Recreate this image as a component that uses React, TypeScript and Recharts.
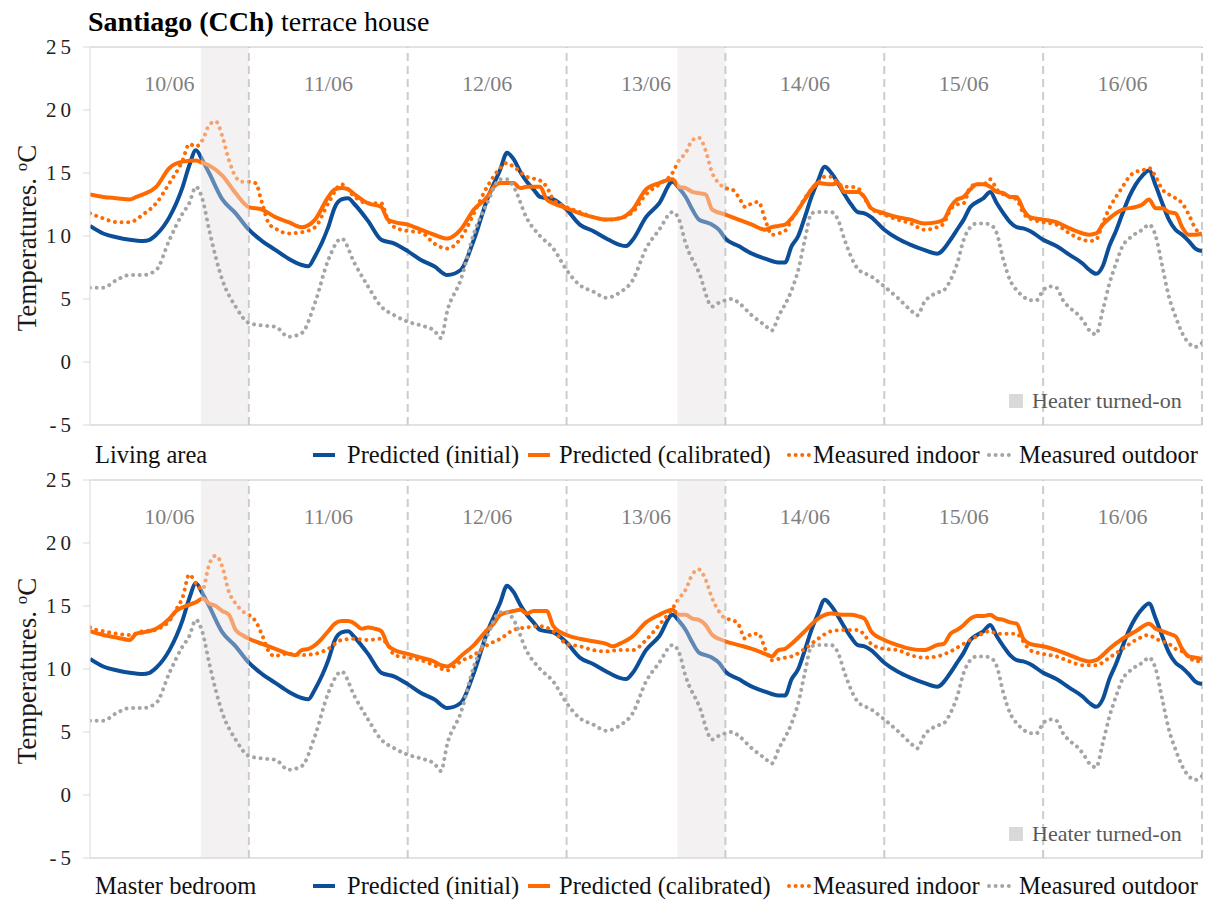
import React from 'react';
import { LineChart, Line, XAxis, YAxis, ReferenceLine, ReferenceArea, ReferenceDot } from 'recharts';

type Pt = [number, number];

const dayLabels = ['10/06', '11/06', '12/06', '13/06', '14/06', '15/06', '16/06'];
const dayBoundaries = [24, 48, 72, 96, 120, 144, 168];
const heaterPeriods: Pt[] = [[16.75, 24], [88.75, 96]];
const yTicks = [-5, 0, 5, 10, 15, 20, 25];
const HOURS = 168;

// Predicted (initial) – hour, °C
const predictedInitial: Pt[] = [[0,10.8],[2,10.2],[4,9.9],[6,9.7],[8,9.6],[9,9.7],[10,10.1],[12,11.5],[14,13.9],[15,15.6],[16,16.8],[17,16.0],[18,15.0],[20,12.9],[22,11.8],[24,10.5],[26,9.6],[28,8.9],[30,8.2],[32,7.7],[33,7.6],[34,8.4],[36,10.7],[37,12.3],[38,12.9],[39,13.0],[40,12.5],[42,11.2],[44,9.7],[46,9.4],[48,8.8],[50,8.1],[52,7.6],[54,6.9],[56,7.3],[58,9.7],[60,12.9],[62,15.3],[63,16.6],[64,16.1],[65,15.1],[66,14.3],[67,13.7],[68,13.1],[70,12.9],[72,12.1],[74,10.9],[76,10.4],[78,9.8],[80,9.3],[81,9.2],[82,9.7],[84,11.5],[86,12.6],[88,14.3],[89,13.8],[90,13.1],[91,12.1],[92,11.3],[93,11.1],[94,10.9],[95,10.5],[96,9.8],[98,9.2],[100,8.6],[102,8.2],[104,7.9],[105,7.9],[106,9.2],[107,10.0],[108,11.5],[109,13.1],[110,14.4],[111,15.5],[112,15.0],[113,14.2],[114,13.3],[115,12.5],[116,11.9],[117,11.8],[118,11.5],[120,10.5],[122,9.8],[124,9.3],[126,8.9],[128,8.6],[130,9.7],[131,10.5],[132,11.3],[133,12.3],[134,12.7],[135,13.0],[136,13.5],[137,12.6],[138,11.8],[139,11.1],[140,10.7],[141,10.6],[142,10.4],[144,9.7],[146,9.2],[148,8.5],[150,7.8],[151,7.3],[152,7.0],[153,7.6],[154,9.2],[155,10.4],[156,11.8],[157,13.1],[158,14.1],[159,14.8],[160,15.2],[161,14.0],[162,12.6],[163,11.3],[164,10.5],[165,10.1],[166,9.6],[167,9.0],[168,8.8]];

// Measured outdoor
const measuredOutdoor: Pt[] = [[0,5.9],[2,5.9],[4,6.5],[6,6.9],[8,6.9],[10,7.3],[12,9.7],[14,11.8],[15,12.6],[16,13.9],[17,12.9],[18,10.5],[20,6.5],[22,4.4],[24,3.1],[26,2.9],[28,2.8],[30,2.0],[32,2.3],[34,4.7],[36,8.1],[38,9.8],[40,7.8],[42,6.0],[44,4.4],[46,3.7],[48,3.2],[50,2.9],[52,2.5],[53,1.9],[54,4.1],[56,6.5],[58,10.2],[60,12.6],[62,14.5],[63,14.5],[64,13.9],[66,11.4],[68,10.0],[70,9.0],[72,7.3],[74,6.1],[76,5.6],[78,5.1],[80,5.5],[82,6.5],[84,9.0],[86,10.5],[88,11.9],[89,11.3],[90,9.4],[92,7.1],[94,4.4],[95,4.7],[96,4.9],[97,5.0],[98,4.7],[100,3.7],[102,2.9],[103,2.5],[104,3.6],[106,5.7],[107,7.3],[108,9.7],[109,11.8],[110,11.9],[112,11.9],[113,11.3],[114,9.7],[116,7.4],[118,6.8],[120,6.0],[122,5.1],[124,4.1],[125,3.7],[126,4.7],[128,5.5],[129,5.7],[130,6.5],[131,7.8],[132,9.7],[133,10.7],[134,11.0],[135,11.0],[136,10.9],[137,10.2],[138,8.1],[139,6.5],[140,5.7],[141,5.2],[142,4.9],[143,4.9],[144,5.7],[145,6.0],[146,5.9],[147,4.9],[148,4.3],[149,3.9],[150,3.3],[151,2.5],[152,2.2],[153,4.1],[154,6.2],[155,7.8],[156,9.2],[157,9.8],[158,10.2],[159,10.5],[160,10.9],[161,10.0],[162,7.6],[163,5.2],[164,3.6],[165,2.3],[166,1.5],[167,1.2],[168,1.5]];

// Living area
const livingCalibrated: Pt[] = [[0,13.3],[2,13.1],[4,13.0],[6,12.9],[7,13.1],[8,13.3],[10,13.9],[12,15.4],[14,15.9],[16,16.0],[17,15.8],[18,15.6],[20,14.8],[22,13.4],[24,12.3],[26,12.1],[28,11.5],[30,11.1],[32,10.7],[34,11.3],[36,13.1],[37,13.7],[38,13.8],[39,13.7],[40,13.3],[42,12.6],[44,12.3],[45,11.3],[46,11.1],[48,10.9],[50,10.5],[52,10.1],[54,9.8],[56,10.5],[58,12.1],[60,13.1],[61,13.9],[62,14.2],[64,14.2],[65,13.8],[66,13.9],[68,13.9],[69,12.9],[70,12.6],[72,12.2],[74,11.8],[76,11.5],[78,11.3],[80,11.4],[82,12.1],[84,13.7],[86,14.2],[88,14.5],[89,13.9],[90,13.8],[91,13.5],[92,13.4],[93,13.3],[94,12.1],[96,11.7],[98,11.3],[100,10.9],[102,10.5],[103,10.7],[104,10.8],[105,10.9],[106,11.4],[108,12.9],[109,13.7],[110,14.2],[112,14.1],[113,14.2],[114,13.5],[116,13.5],[117,13.1],[118,12.2],[120,11.8],[122,11.5],[124,11.3],[126,11.0],[128,11.1],[129,11.3],[130,12.3],[131,12.9],[132,13.1],[133,13.7],[134,14.1],[135,14.1],[136,13.9],[137,13.5],[138,13.4],[139,13.1],[140,13.1],[141,12.1],[142,11.5],[144,11.3],[146,11.1],[148,10.6],[150,10.2],[151,10.1],[152,10.2],[153,10.9],[154,11.4],[156,12.1],[158,12.3],[159,12.5],[160,12.9],[161,12.2],[162,12.2],[163,11.9],[164,11.8],[165,10.7],[166,10.1],[167,10.1],[168,10.2]];

const livingIndoor: Pt[] = [[0,11.8],[2,11.4],[4,11.1],[6,11.1],[8,11.7],[10,12.6],[12,14.2],[14,16.0],[15,17.3],[16,17.1],[17,17.6],[18,18.8],[19,19.1],[20,17.9],[21,16.0],[22,14.7],[23,14.3],[24,14.3],[25,14.2],[26,12.6],[27,11.0],[28,10.6],[30,10.2],[32,10.3],[34,10.7],[36,12.6],[38,14.1],[40,13.1],[42,12.6],[44,12.6],[45,11.3],[46,10.7],[48,10.4],[50,10.3],[52,9.4],[54,9.0],[56,9.8],[58,11.8],[60,13.9],[62,15.4],[63,15.8],[64,15.5],[66,14.7],[68,14.4],[69,13.9],[70,12.9],[72,12.3],[74,11.9],[76,11.5],[78,11.3],[80,11.4],[82,11.9],[84,13.3],[86,14.1],[88,15.0],[89,16.0],[90,16.6],[91,17.6],[92,17.8],[93,16.8],[94,15.0],[95,14.2],[96,13.8],[97,13.7],[98,13.1],[99,12.3],[100,12.6],[101,12.7],[102,11.3],[103,10.1],[104,10.2],[105,10.4],[106,11.3],[107,12.1],[108,13.0],[110,14.2],[111,14.7],[112,14.7],[113,14.2],[114,13.9],[115,13.9],[116,13.8],[117,13.0],[118,12.2],[120,11.7],[122,11.3],[124,11.0],[126,10.5],[128,10.7],[129,11.0],[130,12.1],[131,12.5],[132,12.6],[133,13.9],[134,14.1],[135,14.1],[136,14.5],[137,13.7],[138,13.3],[139,13.1],[140,12.9],[141,11.8],[142,11.4],[144,11.1],[146,10.9],[148,10.2],[150,9.7],[151,9.6],[152,9.7],[153,11.0],[154,12.2],[155,13.1],[156,13.9],[157,14.7],[158,15.1],[159,15.2],[160,15.4],[161,14.7],[162,13.7],[163,13.3],[164,13.0],[165,12.6],[166,11.7],[167,10.6],[168,10.1]];

// Master bedroom
const bedroomCalibrated: Pt[] = [[0,13.0],[2,12.7],[4,12.5],[6,12.3],[7,12.8],[8,12.9],[10,13.2],[12,14.0],[13,14.6],[14,14.9],[16,15.3],[17,15.6],[18,15.2],[19,15.0],[20,14.6],[21,14.3],[22,13.1],[23,12.7],[24,12.4],[26,12.0],[28,11.6],[30,11.2],[31,11.1],[32,11.5],[33,11.6],[34,11.9],[35,12.4],[36,13.0],[37,13.6],[38,13.8],[39,13.8],[40,13.6],[41,13.2],[42,13.3],[43,13.2],[44,13.0],[45,11.9],[46,11.5],[48,11.2],[50,10.9],[52,10.6],[53,10.3],[54,10.2],[55,10.5],[56,11.0],[58,11.9],[60,13.1],[61,13.6],[62,14.3],[64,14.6],[65,14.7],[66,14.4],[67,14.6],[68,14.6],[69,14.6],[70,13.4],[72,12.7],[74,12.4],[76,12.2],[78,12.0],[79,11.8],[80,12.0],[82,12.6],[84,13.7],[86,14.3],[88,14.7],[89,14.3],[90,14.3],[91,14.0],[92,13.9],[93,13.5],[94,12.7],[95,12.4],[96,12.2],[98,11.9],[100,11.6],[102,11.2],[103,11.0],[104,11.5],[105,11.6],[106,12.0],[108,13.0],[110,14.0],[112,14.4],[114,14.3],[115,14.3],[116,14.2],[117,14.0],[118,13.0],[120,12.3],[122,11.9],[124,11.6],[126,11.5],[128,11.9],[129,12.0],[130,12.8],[131,13.1],[132,13.5],[133,14.0],[134,14.2],[135,14.2],[136,14.3],[137,14.0],[138,13.9],[139,13.7],[140,13.6],[141,12.4],[142,12.0],[144,11.8],[146,11.5],[148,11.1],[150,10.7],[151,10.6],[152,10.7],[153,11.1],[154,11.6],[156,12.4],[158,13.0],[160,13.6],[161,13.2],[162,13.0],[163,12.8],[164,12.6],[165,11.6],[166,11.0],[167,10.9],[168,10.8]];

const bedroomIndoor: Pt[] = [[0,13.3],[1,13.1],[2,13.0],[4,12.8],[6,12.7],[8,13.0],[10,13.1],[11,13.4],[12,13.8],[13,14.7],[14,15.7],[15,17.5],[16,16.8],[17,16.3],[18,18.3],[19,19.0],[20,18.1],[21,16.1],[22,15.2],[23,14.6],[24,14.3],[25,13.8],[26,12.7],[27,11.4],[28,11.0],[29,11.2],[30,11.2],[32,11.1],[34,11.2],[36,11.6],[38,12.3],[40,12.4],[42,12.3],[44,12.4],[45,11.9],[46,11.1],[48,10.9],[50,10.7],[52,10.3],[54,9.9],[55,10.2],[56,10.6],[58,11.1],[60,11.9],[62,12.4],[64,13.1],[66,13.3],[68,13.4],[70,13.0],[72,12.0],[74,11.8],[76,11.5],[78,11.4],[80,11.5],[82,11.5],[84,12.3],[86,13.5],[88,14.8],[89,15.6],[90,16.3],[91,17.5],[92,17.9],[93,17.1],[94,15.6],[95,14.6],[96,14.0],[97,13.9],[98,13.5],[99,12.4],[100,12.8],[101,12.8],[102,11.6],[103,10.7],[104,10.8],[105,10.9],[106,11.0],[108,11.6],[110,12.4],[112,13.0],[114,13.1],[116,13.1],[117,12.7],[118,12.0],[120,11.6],[122,11.5],[124,11.1],[126,10.9],[128,11.0],[130,11.4],[132,12.0],[134,12.6],[136,13.0],[137,12.8],[138,12.8],[140,12.8],[141,12.2],[142,11.5],[144,11.2],[146,11.0],[148,10.6],[150,10.3],[152,10.3],[154,10.9],[156,11.6],[158,12.3],[160,12.7],[161,12.4],[162,12.2],[163,12.0],[164,11.6],[165,11.4],[166,11.0],[167,10.6],[168,10.7]];

const COLORS = {
  blue: '#0D4E98',
  blueLight: '#6088B4',
  orange: '#FF6A00',
  orangeLight: '#F7A26C',
  gray: '#A5A5A5',
  grid: '#D9D9D9',
  dayLine: '#CCCCCC',
  heater: '#F4F1F3',
  dayText: '#7F7F7F',
};
const FONT = '"Liberation Serif", "Times New Roman", serif';

const toRows = (p: Pt[]) => p.map(([h, t]) => ({ h, t }));

function gradient(id: string, base: string, light: string) {
  const stops: React.ReactElement[] = [<stop key="s0" offset={0} stopColor={base} />];
  heaterPeriods.forEach(([a, b], i) => {
    stops.push(
      <stop key={`a${i}`} offset={a / HOURS} stopColor={base} />,
      <stop key={`b${i}`} offset={a / HOURS} stopColor={light} />,
      <stop key={`c${i}`} offset={b / HOURS} stopColor={light} />,
      <stop key={`d${i}`} offset={b / HOURS} stopColor={base} />
    );
  });
  stops.push(<stop key="s1" offset={1} stopColor={base} />);
  return (
    <linearGradient id={id} x1="0" y1="0" x2="1" y2="0">
      {stops}
    </linearGradient>
  );
}

const YTick = (props: any) => {
  const { x, y, payload } = props;
  return (
    <text x={x - 6} y={y} dy={7} textAnchor="end" fontFamily={FONT} fontSize={21} letterSpacing={4} fill="#222">
      {String(payload.value)}
    </text>
  );
};

function Panel({ top, prefix, calibrated, indoor }: { top: number; prefix: string; calibrated: Pt[]; indoor: Pt[] }) {
  return (
    <div style={{ position: 'absolute', left: 0, top, width: 1220, height: 450 }}>
      <LineChart width={1220} height={450} margin={{ top: 47, right: 18, bottom: 25, left: 30 }}>
        <defs>
          {gradient(`${prefix}-blue`, COLORS.blue, COLORS.blueLight)}
          {gradient(`${prefix}-orange`, COLORS.orange, COLORS.orangeLight)}
        </defs>
        <XAxis type="number" dataKey="h" domain={[0, HOURS]} hide allowDataOverflow />
        <YAxis
          type="number"
          domain={[-5, 25]}
          ticks={yTicks}
          interval={0}
          allowDataOverflow
          width={60}
          axisLine={{ stroke: COLORS.grid }}
          tickLine={{ stroke: COLORS.grid }}
          tickSize={7}
          tick={<YTick />}
        />
        {heaterPeriods.map(([a, b], i) => (
          <ReferenceArea key={`ha${i}`} x1={a} x2={b} y1={-5} y2={25} fill={COLORS.heater} fillOpacity={1} stroke="none" />
        ))}
        <ReferenceLine y={25} stroke={COLORS.grid} strokeWidth={1.5} />
        <ReferenceLine y={-5} stroke={COLORS.grid} strokeWidth={1.5} />
        {dayBoundaries.map((d) => (
          <ReferenceLine key={`dl${d}`} x={d} stroke={COLORS.dayLine} strokeWidth={2} strokeDasharray="8 5" />
        ))}
        {dayLabels.map((lab, i) => (
          <ReferenceDot
            key={`dt${i}`}
            x={12 + 24 * i}
            y={22.1}
            r={0}
            stroke="none"
            fill="none"
            label={{ value: lab, position: 'center', fill: COLORS.dayText, fontSize: 22, fontFamily: FONT }}
          />
        ))}
        <Line data={toRows(predictedInitial)} dataKey="t" type="monotone" stroke={`url(#${prefix}-blue)`} strokeWidth={4} dot={false} activeDot={false} isAnimationActive={false} />
        <Line data={toRows(calibrated)} dataKey="t" type="monotone" stroke={`url(#${prefix}-orange)`} strokeWidth={4} dot={false} activeDot={false} isAnimationActive={false} />
        <Line data={toRows(indoor)} dataKey="t" type="monotone" stroke={`url(#${prefix}-orange)`} strokeWidth={4} strokeDasharray="0.01 6.6" strokeLinecap="round" dot={false} activeDot={false} isAnimationActive={false} />
        <Line data={toRows(measuredOutdoor)} dataKey="t" type="monotone" stroke={COLORS.gray} strokeWidth={4} strokeDasharray="0.01 6.6" strokeLinecap="round" dot={false} activeDot={false} isAnimationActive={false} />
      </LineChart>
      {/* Heater legend inside plot */}
      <div style={{ position: 'absolute', left: 1009, top: 394, width: 14, height: 14, background: '#D9D9D9' }} />
      <div style={{ position: 'absolute', left: 1032, top: 386, lineHeight: '30px', fontSize: 22, fontFamily: FONT, color: '#595959', whiteSpace: 'nowrap' }}>
        Heater turned-on
      </div>
      {/* Y axis title */}
      <div
        style={{
          position: 'absolute',
          left: 27,
          top: 238,
          transform: 'translate(-50%, -50%) rotate(-90deg)',
          fontSize: 27,
          fontFamily: FONT,
          color: '#1a1a1a',
          whiteSpace: 'nowrap',
          lineHeight: '30px',
        }}
      >
        Temperatures. <span style={{ fontSize: 17, verticalAlign: 'top', lineHeight: '20px' }}>o</span>C
      </div>
    </div>
  );
}

const legendItems = [
  { label: 'Predicted (initial)', color: COLORS.blue, dotted: false, sx: 312, tx: 347 },
  { label: 'Predicted (calibrated)', color: COLORS.orange, dotted: false, sx: 527, tx: 559 },
  { label: 'Measured indoor', color: COLORS.orange, dotted: true, sx: 786, tx: 813 },
  { label: 'Measured outdoor', color: COLORS.gray, dotted: true, sx: 986, tx: 1019 },
];

function LegendRow({ cy, zone }: { cy: number; zone: string }) {
  const textStyle: React.CSSProperties = { position: 'absolute', lineHeight: '30px', fontSize: 24.5, fontFamily: FONT, color: '#111', whiteSpace: 'nowrap' };
  return (
    <>
      <div style={{ ...textStyle, left: 95, top: cy - 15 }}>{zone}</div>
      {legendItems.map((it) => (
        <React.Fragment key={it.label}>
          <svg style={{ position: 'absolute', left: it.sx, top: cy - 5 }} width={28} height={10}>
            {it.dotted ? (
              <line x1={3} y1={5} x2={25} y2={5} stroke={it.color} strokeWidth={4} strokeDasharray="0.01 6.6" strokeLinecap="round" />
            ) : (
              <line x1={1} y1={5} x2={23} y2={5} stroke={it.color} strokeWidth={4} />
            )}
          </svg>
          <div style={{ ...textStyle, left: it.tx, top: cy - 15 }}>{it.label}</div>
        </React.Fragment>
      ))}
    </>
  );
}

export default function App() {
  return (
    <div style={{ position: 'absolute', left: 0, top: 0, width: 1220, height: 900, background: '#fff', overflow: 'hidden' }}>
      <Panel top={0} prefix="liv" calibrated={livingCalibrated} indoor={livingIndoor} />
      <Panel top={433} prefix="bed" calibrated={bedroomCalibrated} indoor={bedroomIndoor} />
      <div style={{ position: 'absolute', left: 88, top: 6, lineHeight: '32px', fontSize: 28, fontFamily: FONT, color: '#000', whiteSpace: 'nowrap' }}>
        <b>Santiago (CCh)</b> terrace house
      </div>
      <LegendRow cy={455} zone="Living area" />
      <LegendRow cy={886} zone="Master bedroom" />
    </div>
  );
}
